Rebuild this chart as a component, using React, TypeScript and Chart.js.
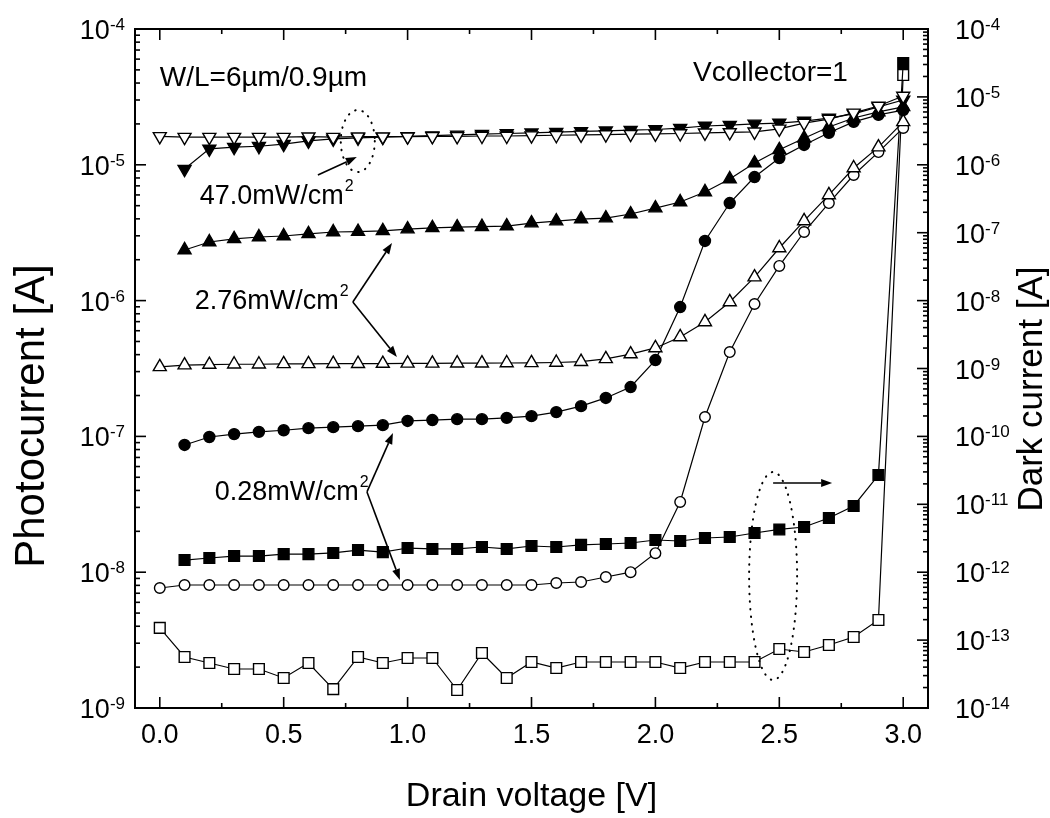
import React, { useEffect, useRef } from 'react';
import { Chart, registerables } from 'chart.js';

Chart.register(...registerables);

// ---------- data ----------
const VOLTAGE = [
  0.0, 0.1, 0.2, 0.3, 0.4, 0.5, 0.6, 0.7, 0.8, 0.9, 1.0,
  1.1, 1.2, 1.3, 1.4, 1.5, 1.6, 1.7, 1.8, 1.9, 2.0,
  2.1, 2.2, 2.3, 2.4, 2.5, 2.6, 2.7, 2.8, 2.9, 3.0,
];

// photocurrent, 47.0 mW/cm2 (open inverted triangles)
const PHOTO_47_OPEN = [
  1.62e-5, 1.60e-5, 1.60e-5, 1.60e-5, 1.60e-5, 1.60e-5, 1.61e-5, 1.60e-5, 1.61e-5, 1.61e-5, 1.61e-5,
  1.62e-5, 1.62e-5, 1.63e-5, 1.63e-5, 1.64e-5, 1.65e-5, 1.66e-5, 1.67e-5, 1.68e-5, 1.69e-5,
  1.70e-5, 1.72e-5, 1.73e-5, 1.75e-5, 1.84e-5, 2.03e-5, 2.17e-5, 2.41e-5, 2.71e-5, 3.21e-5,
];
// photocurrent, 47.0 mW/cm2 (filled inverted triangles)
const PHOTO_47_FILLED = [
  null, 9.3e-6, 1.31e-5, 1.35e-5, 1.37e-5, 1.42e-5, 1.50e-5, 1.55e-5, 1.58e-5, 1.60e-5, 1.62e-5,
  1.64e-5, 1.66e-5, 1.68e-5, 1.70e-5, 1.72e-5, 1.74e-5, 1.76e-5, 1.78e-5, 1.80e-5, 1.82e-5,
  1.86e-5, 1.93e-5, 1.96e-5, 2.00e-5, 2.03e-5, 2.10e-5, 2.21e-5, 2.37e-5, 2.67e-5, 3.00e-5,
];
// photocurrent, 2.76 mW/cm2 (filled triangles)
const PHOTO_276_FILLED = [
  null, 2.36e-6, 2.70e-6, 2.85e-6, 2.94e-6, 2.99e-6, 3.10e-6, 3.20e-6, 3.22e-6, 3.26e-6, 3.36e-6,
  3.43e-6, 3.48e-6, 3.50e-6, 3.54e-6, 3.72e-6, 3.85e-6, 3.98e-6, 4.05e-6, 4.34e-6, 4.80e-6,
  5.32e-6, 6.31e-6, 7.86e-6, 1.03e-5, 1.29e-5, 1.57e-5, 1.90e-5, 2.21e-5, 2.45e-5, 2.67e-5,
];
// photocurrent, 2.76 mW/cm2 (open triangles)
const PHOTO_276_OPEN = [
  3.25e-7, 3.35e-7, 3.38e-7, 3.40e-7, 3.40e-7, 3.42e-7, 3.42e-7, 3.43e-7, 3.43e-7, 3.44e-7, 3.45e-7,
  3.45e-7, 3.46e-7, 3.46e-7, 3.47e-7, 3.48e-7, 3.50e-7, 3.55e-7, 3.72e-7, 4.04e-7, 4.48e-7,
  5.40e-7, 6.96e-7, 9.77e-7, 1.49e-6, 2.44e-6, 3.86e-6, 6.00e-6, 9.47e-6, 1.35e-5, 2.07e-5,
];
// photocurrent, 0.28 mW/cm2 (filled circles)
const PHOTO_028_FILLED = [
  null, 8.65e-8, 9.9e-8, 1.04e-7, 1.08e-7, 1.11e-7, 1.15e-7, 1.17e-7, 1.19e-7, 1.21e-7, 1.30e-7,
  1.32e-7, 1.34e-7, 1.34e-7, 1.37e-7, 1.41e-7, 1.51e-7, 1.67e-7, 1.92e-7, 2.31e-7, 3.65e-7,
  8.97e-7, 2.75e-6, 5.23e-6, 8.13e-6, 1.12e-5, 1.40e-5, 1.72e-5, 2.07e-5, 2.33e-5, 2.53e-5,
];
// photocurrent, 0.28 mW/cm2 (open circles)
const PHOTO_028_OPEN = [
  7.65e-9, 8.05e-9, 8.05e-9, 8.05e-9, 8.05e-9, 8.05e-9, 8.05e-9, 8.05e-9, 8.05e-9, 8.05e-9, 8.05e-9,
  8.05e-9, 8.05e-9, 8.05e-9, 8.05e-9, 8.05e-9, 8.33e-9, 8.47e-9, 9.22e-9, 1.0e-8, 1.38e-8,
  3.29e-8, 1.39e-7, 4.18e-7, 9.44e-7, 1.80e-6, 3.20e-6, 5.23e-6, 8.41e-6, 1.24e-5, 1.87e-5,
];
// dark current (filled squares, right axis)
const DARK_FILLED = [
  null, 1.51e-12, 1.62e-12, 1.73e-12, 1.73e-12, 1.85e-12, 1.85e-12, 1.92e-12, 2.12e-12, 1.98e-12, 2.27e-12,
  2.20e-12, 2.20e-12, 2.35e-12, 2.20e-12, 2.43e-12, 2.35e-12, 2.52e-12, 2.60e-12, 2.69e-12, 2.98e-12,
  2.88e-12, 3.19e-12, 3.30e-12, 3.78e-12, 4.26e-12, 4.63e-12, 6.29e-12, 9.44e-12, 2.70e-11, 3.16e-5,
];
// dark current (open squares, right axis)
const DARK_OPEN = [
  1.51e-13, 5.64e-14, 4.60e-14, 3.75e-14, 3.75e-14, 2.77e-14, 4.60e-14, 1.90e-14, 5.64e-14, 4.60e-14, 5.45e-14,
  5.45e-14, 1.84e-14, 6.46e-14, 2.77e-14, 4.76e-14, 3.88e-14, 4.76e-14, 4.76e-14, 4.76e-14, 4.76e-14,
  3.88e-14, 4.76e-14, 4.76e-14, 4.76e-14, 7.39e-14, 6.68e-14, 8.47e-14, 1.11e-13, 1.98e-13, 2.10e-5,
];

// ---------- axes ----------
const X_MAJOR = [0, 0.5, 1.0, 1.5, 2.0, 2.5, 3.0];
const X_LABELS = ['0.0', '0.5', '1.0', '1.5', '2.0', '2.5', '3.0'];
const X_MINOR = [0.25, 0.75, 1.25, 1.75, 2.25, 2.75];
const LEFT_EXP = [-9, -8, -7, -6, -5, -4];
const RIGHT_EXP = [-14, -13, -12, -11, -10, -9, -8, -7, -6, -5, -4];
const MINOR_MULT = [2, 3, 4, 5, 6, 7, 8, 9];

const X_TITLE = 'Drain voltage [V]';
const LEFT_TITLE = 'Photocurrent [A]';
const RIGHT_TITLE = 'Dark current [A]';

// annotations in data coordinates (x in V, y as log10 of photocurrent)
const TEXT_WL = { text: 'W/L=6\u00b5m/0.9\u00b5m', x: 0.0, ly: -4.361 };
const TEXT_VC = { text: 'Vcollector=1', x: 2.152, ly: -4.324 };
const LABEL_47 = { text: '47.0mW/cm', x: 0.161, ly: -5.237 };
const LABEL_276 = { text: '2.76mW/cm', x: 0.141, ly: -6.01 };
const LABEL_028 = { text: '0.28mW/cm', x: 0.222, ly: -7.417 };
const ARROWS = [
  [0.638, -5.075, 0.795, -4.943],
  [0.779, -6.01, 0.937, -5.576],
  [0.779, -6.01, 0.957, -6.415],
  [0.836, -7.409, 0.941, -6.975],
  [0.836, -7.409, 0.969, -8.057],
  [2.475, -7.343, 2.713, -7.343],
];
const ELLIPSES = [
  { x: 0.799, ly: -4.825, rx: 17, ry: 31 },
  { x: 2.475, ly: -8.028, rx: 24, ry: 104 },
];

const FONT = '"Liberation Sans", Arial, Helvetica, sans-serif';

function series(values: (number | null)[]) {
  return VOLTAGE.map((x, i) => ({ x, y: values[i] }));
}

function ds(values: (number | null)[], style: string, filled: boolean, rotation: number, radius: number, axis: string) {
  return {
    data: series(values),
    yAxisID: axis,
    borderColor: '#000',
    borderWidth: 1.2,
    pointStyle: style,
    pointRotation: rotation,
    pointRadius: radius,
    pointBackgroundColor: filled ? '#000' : '#fff',
    pointBorderColor: '#000',
    pointBorderWidth: 1.4,
    tension: 0,
    fill: false,
    spanGaps: false,
    clip: false as any,
  };
}

const framePlugin = {
  id: 'frameAndAnnotations',
  afterDraw(chart: any) {
    const { ctx, chartArea: a, scales } = chart;
    const xs = scales.x;
    const yl = scales.y;
    const yr = scales.y2;
    const px = (v: number) => xs.getPixelForValue(v);
    const pyl = (lg: number) => yl.getPixelForValue(Math.pow(10, lg));
    ctx.save();
    ctx.strokeStyle = '#000';
    ctx.fillStyle = '#000';
    const line = (x1: number, y1: number, x2: number, y2: number) => {
      ctx.beginPath();
      ctx.moveTo(x1, y1);
      ctx.lineTo(x2, y2);
      ctx.stroke();
    };

    // ticks
    ctx.lineWidth = 1.6;
    X_MAJOR.forEach((v) => {
      const p = px(v);
      line(p, a.bottom, p, a.bottom - 11);
      line(p, a.top, p, a.top + 11);
    });
    X_MINOR.forEach((v) => {
      const p = px(v);
      line(p, a.bottom, p, a.bottom - 5);
      line(p, a.top, p, a.top + 5);
    });
    LEFT_EXP.forEach((e, i) => {
      const p = yl.getPixelForValue(Math.pow(10, e));
      line(a.left, p, a.left + 11, p);
      if (i < LEFT_EXP.length - 1) {
        MINOR_MULT.forEach((m) => {
          const q = yl.getPixelForValue(m * Math.pow(10, e));
          line(a.left, q, a.left + 5, q);
        });
      }
    });
    RIGHT_EXP.forEach((e, i) => {
      const p = yr.getPixelForValue(Math.pow(10, e));
      line(a.right, p, a.right - 11, p);
      if (i < RIGHT_EXP.length - 1) {
        MINOR_MULT.forEach((m) => {
          const q = yr.getPixelForValue(m * Math.pow(10, e));
          line(a.right, q, a.right - 5, q);
        });
      }
    });

    // frame
    ctx.lineWidth = 2;
    ctx.strokeRect(a.left, a.top, a.right - a.left, a.bottom - a.top);

    // tick labels
    const big = `27px ${FONT}`;
    const small = `17px ${FONT}`;
    ctx.textAlign = 'left';
    ctx.textBaseline = 'alphabetic';
    LEFT_EXP.forEach((e) => {
      const p = yl.getPixelForValue(Math.pow(10, e));
      const sup = String(e);
      ctx.font = small;
      const ws = ctx.measureText(sup).width;
      ctx.font = big;
      const wb = ctx.measureText('10').width;
      const right = a.left - 10;
      ctx.fillText('10', right - ws - wb, p + 10);
      ctx.font = small;
      ctx.fillText(sup, right - ws, p + 1);
    });
    RIGHT_EXP.forEach((e) => {
      const p = yr.getPixelForValue(Math.pow(10, e));
      const left = a.right + 27;
      ctx.font = big;
      const wb = ctx.measureText('10').width;
      ctx.fillText('10', left, p + 10);
      ctx.font = small;
      ctx.fillText(String(e), left + wb, p + 1);
    });
    ctx.font = big;
    ctx.textAlign = 'center';
    X_MAJOR.forEach((v, i) => {
      ctx.fillText(X_LABELS[i], px(v), a.bottom + 35);
    });

    // axis titles
    ctx.font = `34px ${FONT}`;
    ctx.textAlign = 'center';
    ctx.fillText(X_TITLE, (a.left + a.right) / 2, a.bottom + 98);
    ctx.save();
    ctx.translate(32, 416);
    ctx.rotate(-Math.PI / 2);
    ctx.textBaseline = 'middle';
    ctx.font = `42px ${FONT}`;
    ctx.fillText(LEFT_TITLE, 0, 0);
    ctx.restore();
    ctx.save();
    ctx.translate(a.right + 104, 389);
    ctx.rotate(-Math.PI / 2);
    ctx.textBaseline = 'middle';
    ctx.font = `35px ${FONT}`;
    ctx.fillText(RIGHT_TITLE, 0, 0);
    ctx.restore();

    // annotation texts
    ctx.textAlign = 'left';
    ctx.textBaseline = 'middle';
    [TEXT_WL, TEXT_VC].forEach((t) => {
      ctx.font = `28px ${FONT}`;
      ctx.fillText(t.text, px(t.x), pyl(t.ly));
    });
    [LABEL_47, LABEL_276, LABEL_028].forEach((t) => {
      ctx.font = `27px ${FONT}`;
      const x0 = px(t.x);
      const y0 = pyl(t.ly);
      ctx.fillText(t.text, x0, y0);
      const w = ctx.measureText(t.text).width;
      ctx.font = `16px ${FONT}`;
      ctx.fillText('2', x0 + w + 1, y0 - 10);
    });

    // arrows
    ctx.lineWidth = 1.6;
    ARROWS.forEach(([x1, l1, x2, l2]) => {
      const ax = px(x1);
      const ay = pyl(l1);
      const bx = px(x2);
      const by = pyl(l2);
      const ang = Math.atan2(by - ay, bx - ax);
      const hl = 11;
      const hw = 4;
      const baseX = bx - hl * Math.cos(ang);
      const baseY = by - hl * Math.sin(ang);
      line(ax, ay, baseX, baseY);
      ctx.beginPath();
      ctx.moveTo(bx, by);
      ctx.lineTo(baseX + hw * Math.sin(ang), baseY - hw * Math.cos(ang));
      ctx.lineTo(baseX - hw * Math.sin(ang), baseY + hw * Math.cos(ang));
      ctx.closePath();
      ctx.fill();
    });

    // dotted ellipses
    ctx.lineWidth = 2;
    ctx.lineCap = 'round';
    ctx.setLineDash([0.5, 7]);
    ELLIPSES.forEach((e) => {
      ctx.beginPath();
      ctx.ellipse(px(e.x), pyl(e.ly), e.rx, e.ry, 0, 0, Math.PI * 2);
      ctx.stroke();
    });
    ctx.setLineDash([]);
    ctx.restore();
  },
};

export default function App() {
  const ref = useRef<HTMLCanvasElement>(null);
  useEffect(() => {
    if (!ref.current) return;
    const chart = new Chart(ref.current, {
      type: 'line',
      data: {
        datasets: [
          ds(PHOTO_47_OPEN, 'triangle', false, 180, 7.5, 'y'),
          ds(PHOTO_47_FILLED, 'triangle', true, 180, 7.5, 'y'),
          ds(PHOTO_276_FILLED, 'triangle', true, 0, 7.5, 'y'),
          ds(PHOTO_276_OPEN, 'triangle', false, 0, 7.5, 'y'),
          ds(PHOTO_028_FILLED, 'circle', true, 0, 5.5, 'y'),
          ds(PHOTO_028_OPEN, 'circle', false, 0, 5.3, 'y'),
          ds(DARK_FILLED, 'rect', true, 0, 7.6, 'y2'),
          ds(DARK_OPEN, 'rect', false, 0, 7.6, 'y2'),
        ] as any,
      },
      options: {
        animation: false,
        responsive: true,
        maintainAspectRatio: false,
        layout: { padding: { left: 135, top: 29, right: 122, bottom: 110 } },
        plugins: { legend: { display: false }, tooltip: { enabled: false } },
        scales: {
          x: { type: 'linear', min: -0.1, max: 3.1, display: false },
          y: { type: 'logarithmic', min: 1e-9, max: 1e-4, display: false },
          y2: { type: 'logarithmic', min: 1e-14, max: 1e-4, display: false, position: 'right' },
        },
      } as any,
      plugins: [framePlugin],
    });
    return () => chart.destroy();
  }, []);
  return (
    <div style={{ position: 'fixed', left: 0, top: 0, width: 1050, height: 818, background: '#fff' }}>
      <canvas ref={ref} />
    </div>
  );
}
